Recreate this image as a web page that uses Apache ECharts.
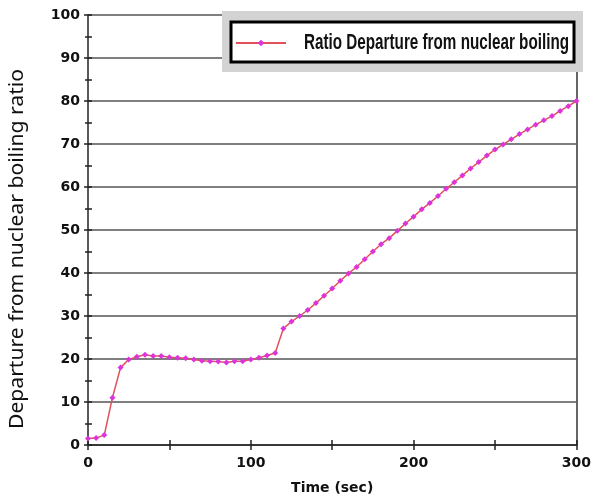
<!DOCTYPE html>
<html>
<head>
<meta charset="utf-8">
<script src="https://cdn.jsdelivr.net/npm/echarts@6/dist/echarts.min.js"></script>
<style>
  html, body { margin: 0; padding: 0; background: #fff; }
  #chart { width: 594px; height: 500px; }
</style>
</head>
<body>
<div id="chart"></div>
<script>
// Time samples every 5 seconds
const timeSec = [
  0, 5, 10, 15, 20, 25, 30, 35, 40, 45, 50, 55, 60, 65, 70, 75, 80, 85, 90, 95,
  100, 105, 110, 115, 120, 125, 130, 135, 140, 145, 150, 155, 160, 165, 170, 175,
  180, 185, 190, 195, 200, 205, 210, 215, 220, 225, 230, 235, 240, 245, 250, 255,
  260, 265, 270, 275, 280, 285, 290, 295, 300
];
// Departure from nuclear boiling ratio
const dnbRatio = [
  1.5, 1.6, 2.3, 11.0, 18.0, 19.9, 20.5, 21.0, 20.7, 20.7, 20.4, 20.3, 20.2, 19.9, 19.6, 19.5, 19.4, 19.2, 19.5, 19.5,
  19.9, 20.3, 20.8, 21.4, 27.1, 28.7, 30.0, 31.4, 33.0, 34.7, 36.4, 38.2, 39.9, 41.4, 43.2, 45.0,
  46.7, 48.1, 49.8, 51.5, 53.1, 54.8, 56.3, 57.9, 59.6, 61.1, 62.7, 64.3, 65.8, 67.3, 68.7, 69.9,
  71.1, 72.3, 73.4, 74.5, 75.5, 76.5, 77.7, 78.8, 80.0
];
const seriesName = 'Ratio Departure from nuclear boiling';
const yTitle = 'Departure from nuclear boiling ratio';
const xTitle = 'Time (sec)';

const points = timeSec.map((t, i) => [t, dnbRatio[i]]);

// Condensed text: measure with canvas and squeeze horizontally to a target length
function textWidth(str, font) {
  const ctx = document.createElement('canvas').getContext('2d');
  ctx.font = font;
  return ctx.measureText(str).width;
}
const legendFont = { family: 'Liberation Sans', size: 22, weight: 'bold' };
const legendScale = 265 / textWidth(seriesName,
  legendFont.weight + ' ' + legendFont.size + 'px "' + legendFont.family + '"');
const yTitleFont = { family: 'Noto Sans', size: 19 };
const yTitleScale = 360 / textWidth(yTitle, yTitleFont.size + 'px "' + yTitleFont.family + '"');

const tickFont = { fontFamily: 'DejaVu Sans', fontWeight: 'bold', fontSize: 14, color: '#111' };
const gridLeft = 88, gridRight = 17, gridTop = 15, gridBottom = 55;

const chart = echarts.init(document.getElementById('chart'));
chart.setOption({
  animation: false,
  backgroundColor: '#fff',
  grid: { left: gridLeft, right: gridRight, top: gridTop, bottom: gridBottom },
  xAxis: [
    {
      type: 'value', min: 0, max: 300, interval: 50,
      axisLine: { lineStyle: { color: '#222', width: 1.5 } },
      axisTick: { show: true, length: 5, lineStyle: { color: '#222', width: 1.5 } },
      axisLabel: Object.assign({ margin: 11, formatter: v => (v % 100 === 0 ? String(v) : '') }, tickFont),
      splitLine: { show: false },
      name: xTitle, nameLocation: 'middle', nameGap: 36,
      nameTextStyle: { fontFamily: 'DejaVu Sans', fontWeight: 'bold', fontSize: 14, color: '#111' }
    },
    {
      type: 'value', min: 0, max: 300, interval: 50, position: 'bottom',
      axisLine: { show: false },
      axisTick: { show: true, inside: true, length: 5, lineStyle: { color: '#222', width: 1.5 } },
      axisLabel: { show: false }, splitLine: { show: false }
    }
  ],
  yAxis: [
    {
      type: 'value', min: 0, max: 100, interval: 10,
      axisLine: { show: true, lineStyle: { color: '#222', width: 1.5 } },
      axisTick: { show: true, length: 4, lineStyle: { color: '#222', width: 1.5 } },
      minorTick: { show: true, splitNumber: 2, length: 3, lineStyle: { color: '#222', width: 1.5 } },
      axisLabel: Object.assign({ margin: 8 }, tickFont),
      splitLine: { show: true, lineStyle: { color: '#555', width: 1.5 } }
    },
    {
      type: 'value', min: 0, max: 100, interval: 5, position: 'left',
      axisLine: { show: false },
      axisTick: { show: true, inside: true, length: 4, lineStyle: { color: '#222', width: 1.5 } },
      axisLabel: { show: false }, splitLine: { show: false }
    },
    {
      type: 'value', min: 0, max: 100, interval: 10, position: 'right',
      axisLine: { show: true, lineStyle: { color: '#333', width: 1.5 } },
      axisTick: { show: false }, axisLabel: { show: false }, splitLine: { show: false }
    }
  ],
  legend: {
    show: true, left: 235, top: 39, z: 20,
    itemWidth: 50, itemHeight: 8, padding: 0,
    data: [seriesName],
    formatter: () => '',
    textStyle: { fontSize: 1 }
  },
  graphic: [
    { type: 'rect', z: 10, shape: { x: 222, y: 11, width: 361, height: 61 },
      style: { fill: '#d3d3d3' } },
    { type: 'rect', z: 11, shape: { x: 231, y: 22, width: 343, height: 40 },
      style: { fill: '#fff', stroke: '#000', lineWidth: 3 } },
    { type: 'text', z: 12, x: 304, y: 43, scaleX: legendScale,
      style: { text: seriesName, fontFamily: legendFont.family, fontSize: legendFont.size,
               fontWeight: legendFont.weight, fill: '#111', align: 'left', verticalAlign: 'middle' } },
    { type: 'text', z: 12, x: 18, y: 249, rotation: Math.PI / 2, scaleX: yTitleScale,
      style: { text: yTitle, fontFamily: yTitleFont.family, fontSize: yTitleFont.size, fill: '#111',
               align: 'center', verticalAlign: 'middle' } }
  ],
  series: [
    {
      name: seriesName, type: 'line', xAxisIndex: 0, yAxisIndex: 0,
      data: points,
      symbol: 'diamond', symbolSize: 6, showAllSymbol: true,
      itemStyle: { color: '#dd33dd' },
      lineStyle: { color: '#e2505a', width: 1.5 }
    }
  ]
});
</script>
</body>
</html>
